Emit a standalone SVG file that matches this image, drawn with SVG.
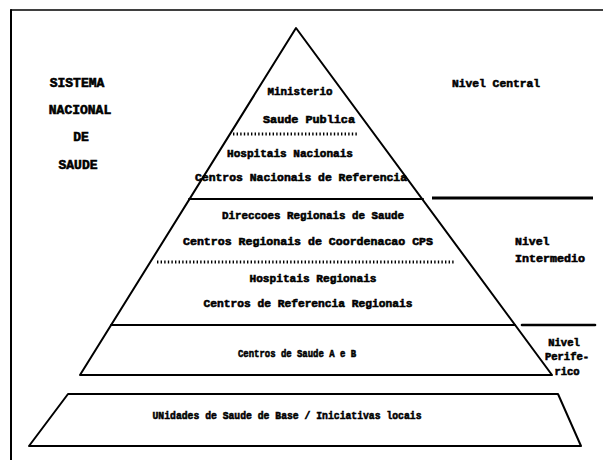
<svg xmlns="http://www.w3.org/2000/svg" width="603" height="460" viewBox="0 0 603 460">
<style>
.ln{stroke:#000;stroke-width:2;fill:none;stroke-linecap:round;stroke-linejoin:round}
.thick{stroke:#000;stroke-width:3.2;fill:none}
.dot{stroke:#000;stroke-width:3;fill:none;stroke-dasharray:1.4 2.2}
.t{font-family:"Liberation Mono","DejaVu Sans Mono",monospace;font-weight:bold;font-size:11.5px;fill:#000;stroke:#000;stroke-width:0.6;text-anchor:middle}
.big{font-size:13px}
.sm{font-size:10.5px}
</style>
<rect width="603" height="460" fill="#fff"/>
<g id="frame">
<line class="ln" x1="11" y1="10" x2="603" y2="10" style="stroke-width:1.6"/>
<line class="ln" x1="11" y1="10" x2="11" y2="460"/>
</g>
<g id="pyramid">
<polygon class="ln" points="296,28 552,375 80,375"/>
</g>
<g id="connectors">
<line class="ln" x1="189" y1="199" x2="423" y2="199"/>
<line class="ln" x1="111" y1="325" x2="515" y2="325"/>
<line class="dot" x1="233" y1="134" x2="357" y2="134"/>
<line class="dot" x1="157" y1="262" x2="455" y2="262"/>
<line class="thick" x1="432" y1="198" x2="593" y2="198"/>
<line class="ln" x1="522" y1="325" x2="595" y2="325" style="stroke-width:2.6"/>
</g>
<g id="nivel-central-tier">
<text class="t" x="300" y="95" textLength="65" lengthAdjust="spacingAndGlyphs">Ministerio</text>
<text class="t" x="309" y="123" textLength="92" lengthAdjust="spacingAndGlyphs">Saude Publica</text>
<text class="t" x="290" y="157" textLength="126" lengthAdjust="spacingAndGlyphs">Hospitais Nacionais</text>
<text class="t" x="301" y="181" textLength="212" lengthAdjust="spacingAndGlyphs">Centros Nacionais de Referencia</text>
</g>
<g id="nivel-intermedio-tier">
<text class="t" x="313" y="219" textLength="182" lengthAdjust="spacingAndGlyphs">Direccoes Regionais de Saude</text>
<text class="t" x="308" y="245" textLength="250" lengthAdjust="spacingAndGlyphs">Centros Regionais de Coordenacao CPS</text>
<text class="t" x="313" y="282" textLength="127" lengthAdjust="spacingAndGlyphs">Hospitais Regionais</text>
<text class="t" x="308" y="307" textLength="209" lengthAdjust="spacingAndGlyphs">Centros de Referencia Regionais</text>
</g>
<g id="nivel-periferico-tier">
<text class="t" x="297" y="357" textLength="118" lengthAdjust="spacingAndGlyphs">Centros de Saude A e B</text>
</g>
<g id="base">
<polygon class="ln" points="68,394 558,394 581,446 29,446"/>
<text class="t" x="287" y="419" textLength="269" lengthAdjust="spacingAndGlyphs">UNidades de Saude de Base / Iniciativas locais</text>
</g>
<g id="title">
<text class="t big" x="77" y="87">SISTEMA</text>
<text class="t big" x="80" y="114">NACIONAL</text>
<text class="t big" x="81" y="141">DE</text>
<text class="t big" x="78" y="169">SAUDE</text>
</g>
<g id="level-labels">
<text class="t" x="496" y="87" textLength="88" lengthAdjust="spacingAndGlyphs">Nivel Central</text>
<text class="t" x="515" y="245" style="text-anchor:start">Nivel</text>
<text class="t" x="515" y="262" style="text-anchor:start" textLength="70" lengthAdjust="spacingAndGlyphs">Intermedio</text>
<text class="t sm" x="564" y="346">Nivel</text>
<text class="t sm" x="567" y="360">Perife-</text>
<text class="t sm" x="567" y="375">rico</text>
</g>
</svg>
